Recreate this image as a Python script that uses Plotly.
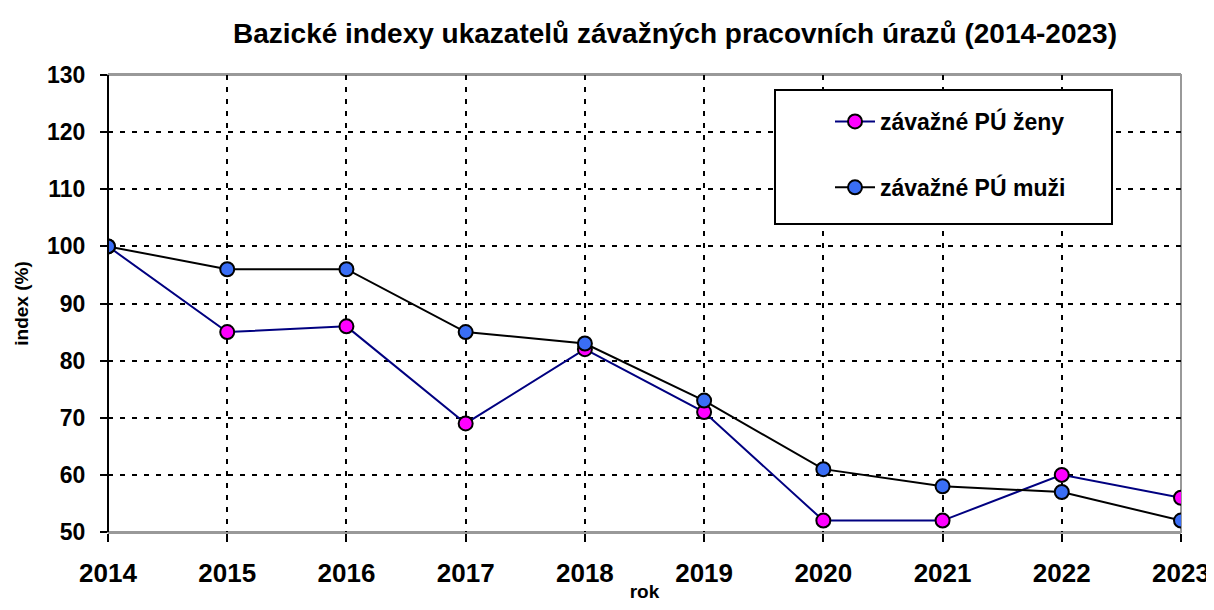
import plotly.graph_objects as go

years = [2014, 2015, 2016, 2017, 2018, 2019, 2020, 2021, 2022, 2023]
zeny = [100, 85, 86, 69, 82, 71, 52, 52, 60, 56]
muzi = [100, 96, 96, 85, 83, 73, 61, 58, 57, 52]
y_ticks = [50, 60, 70, 80, 90, 100, 110, 120, 130]

FONT = "Liberation Sans, Arial, sans-serif"
OFF = 8  # page body margin

fig = go.Figure()
fig.add_trace(go.Scatter(
    x=years, y=zeny, name="<b>závažné PÚ ženy</b>", mode="lines+markers",
    line=dict(color="#000080", width=2),
    marker=dict(size=14, color="#FF00FF", line=dict(color="black", width=2)),
    legendgroup="a"))
fig.add_trace(go.Scatter(
    x=years, y=muzi, name="<b>závažné PÚ muži</b>", mode="lines+markers",
    line=dict(color="black", width=2),
    marker=dict(size=14, color="#3A6EF5", line=dict(color="black", width=2)),
    legendgroup="b"))

W, H = 1214 - OFF, 610 - 2 * OFF
# desired screen coords of the plot area
SL, SR, ST, SB = 108, 1181, 75, 532
L = SL - OFF
T = ST - OFF
R = W - (SR - OFF)
B = H - (SB - OFF)
pw = SR - SL
ph = SB - ST

def px_x(p):
    return (p - SL) / pw

def px_y(p):
    return (SB - p) / ph

fig.update_layout(
    width=W, height=H,
    margin=dict(l=L, r=R, t=T, b=B, autoexpand=False),
    paper_bgcolor="white", plot_bgcolor="white",
    font=dict(family=FONT, color="black"),
    title=dict(text="<b>Bazické indexy ukazatelů závažných pracovních úrazů (2014-2023)</b>",
               x=(675 - OFF) / W, xanchor="center", y=1 - (33 - OFF) / H, yanchor="middle",
               font=dict(size=28, family=FONT, color="black")),
    showlegend=True,
    legend=dict(x=px_x(830), y=px_y(100), xanchor="left", yanchor="top",
                bgcolor="rgba(0,0,0,0)", borderwidth=0,
                font=dict(size=23, family=FONT, color="black"),
                tracegroupgap=33, itemwidth=40),
    xaxis=dict(range=[2014, 2023], tickmode="array", tickvals=years,
               ticktext=["<b>%d</b>" % y for y in years],
               tickfont=dict(size=26, family=FONT, color="black"),
               ticklabelstandoff=9, ticklabeloverflow="allow",
               showgrid=True, gridcolor="black", gridwidth=2, griddash="5px,7px",
               ticks="outside", ticklen=8, tickwidth=2, tickcolor="black",
               showline=True, linecolor="#999999", linewidth=2, mirror=True,
               zeroline=False,
               title=dict(text="<b>rok</b>", font=dict(size=19, family=FONT), standoff=8)),
    yaxis=dict(range=[50, 130], tickmode="array", tickvals=y_ticks,
               ticktext=["<b>%d</b>" % v for v in y_ticks],
               tickfont=dict(size=23, family=FONT, color="black"),
               ticklabelstandoff=10,
               showgrid=True, gridcolor="black", gridwidth=2, griddash="5px,7px",
               ticks="outside", ticklen=7, tickwidth=2, tickcolor="black",
               showline=False, zeroline=False,
               title=dict(text="<b>index (%)</b>", font=dict(size=19, family=FONT), standoff=13)),
)

# plot border (grey) and black left axis line
fig.add_shape(type="rect", xref="paper", yref="paper", x0=0, x1=1, y0=0, y1=1,
              line=dict(color="#999999", width=2), layer="below")
fig.add_shape(type="line", xref="paper", yref="paper", x0=0, x1=0, y0=0, y1=1,
              line=dict(color="black", width=2))
# legend box (above the gridlines)
fig.add_shape(type="rect", xref="paper", yref="paper",
              x0=px_x(775), x1=px_x(1112), y0=px_y(224), y1=px_y(90),
              line=dict(color="black", width=2), fillcolor="white", layer="above")

fig.write_html("out.html")
